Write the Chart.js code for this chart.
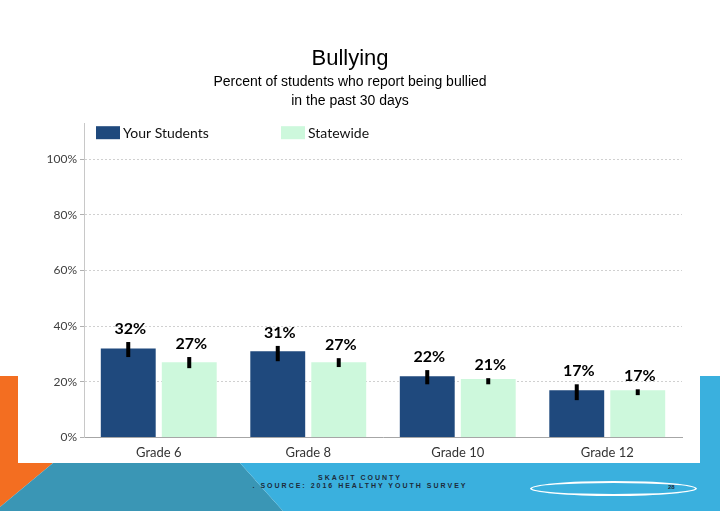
<!DOCTYPE html>
<html>
<head>
<meta charset="utf-8">
<script src="https://cdn.jsdelivr.net/npm/chart.js@4"></script>
<style>
  body { margin: 0; width: 720px; height: 511px; background: #fff; position: relative; overflow: hidden; }
  .shape { position: absolute; left: 0; top: 0; width: 720px; height: 511px; }
  #orange { background: #f36e21; clip-path: polygon(0 376px, 18px 376px, 18px 463px, 53px 463px, 0 507px); }
  #teal { background: #3a96b5; clip-path: polygon(53px 463px, 240px 463px, 283px 511px, 0 511px, 0 507px); }
  #blue { background: #3ab0de; clip-path: polygon(240px 463px, 700px 463px, 700px 376px, 720px 376px, 720px 511px, 283px 511px); }
  #wrap { position: absolute; left: 18px; top: 40px; width: 682px; height: 423px; background: #fff; }
  .foot { position: absolute; left: 0; width: 720px; text-align: center; font: bold 7px "Liberation Sans", Arial, sans-serif; letter-spacing: 2.0px; color: #1d2b3a; }
  #ell { position: absolute; left: 530px; top: 481px; width: 163px; height: 11px; border: 2.5px solid #fff; border-radius: 50%; }
  #pg { position: absolute; left: 668px; top: 484px; font: bold 6px "Liberation Sans", Arial, sans-serif; color: #1d2b3a; }
</style>
</head>
<body>
<div class="shape" id="orange"></div>
<div class="shape" id="teal"></div>
<div class="shape" id="blue"></div>
<div id="wrap"><canvas id="myChart"></canvas></div>
<div class="foot" style="top:474px">SKAGIT COUNTY</div>
<div class="foot" style="top:482px">. SOURCE: 2016 HEALTHY YOUTH SURVEY</div>
<div id="ell"></div>
<div id="pg">28</div>
<script>
const grades = ['Grade 6', 'Grade 8', 'Grade 10', 'Grade 12']
const yourStudents = [32, 31, 22, 17]
const statewide = [27, 27, 21, 17]
// confidence intervals
const yourLow = [28.9, 27.4, 19.1, 13.4]
const yourHigh = [34.3, 32.9, 24.2, 19.1]
const stateLow = [24.9, 25.3, 19.1, 15.2]
const stateHigh = [28.9, 28.5, 21.3, 17.3]
const yTicks = [0, 20, 40, 60, 80, 100]

const errs = [[yourLow, yourHigh], [stateLow, stateHigh]]

const extras = {
  id: 'extras',
  afterDatasetsDraw(chart) {
    const ctx = chart.ctx
    const y = chart.scales.y
    ctx.save()
    chart.data.datasets.forEach((ds, i) => {
      const meta = chart.getDatasetMeta(i)
      meta.data.forEach((bar, j) => {
        const top = y.getPixelForValue(errs[i][1][j])
        const bot = y.getPixelForValue(errs[i][0][j])
        ctx.fillStyle = '#000'
        ctx.fillRect(bar.x - 2, top, 4, bot - top)
        ctx.font = 'bold 16px Lato, "Open Sans", sans-serif'
        ctx.textAlign = 'center'
        ctx.textBaseline = 'alphabetic'
        ctx.fillText(ds.data[j] + '%', bar.x + 2, top - 8)
      })
    })
    // legend inside the plot
    const a = chart.chartArea
    const xs = [a.left + 12, a.left + 197]
    chart.data.datasets.forEach((ds, i) => {
      ctx.fillStyle = ds.backgroundColor
      ctx.fillRect(xs[i], a.top + 3, 24, 13)
      ctx.fillStyle = '#111'
      ctx.font = '14px Lato, "Open Sans", sans-serif'
      ctx.textAlign = 'left'
      ctx.textBaseline = 'middle'
      ctx.fillText(ds.label, xs[i] + 27, a.top + 10)
    })
    ctx.restore()
  }
}

new Chart(document.getElementById('myChart'), {
  type: 'bar',
  data: {
    labels: grades,
    datasets: [
      { label: 'Your Students', data: yourStudents, backgroundColor: '#1f497d' },
      { label: 'Statewide', data: statewide, backgroundColor: '#cdf8dc' }
    ]
  },
  options: {
    responsive: true,
    maintainAspectRatio: false,
    animation: false,
    categoryPercentage: 0.816,
    barPercentage: 0.9,
    layout: { padding: { left: 0, right: 18, top: 0, bottom: 2 } },
    plugins: {
      legend: { display: false },
      tooltip: { enabled: false },
      title: {
        display: true, text: 'Bullying', color: '#000',
        font: { family: '"Liberation Sans", Arial', size: 22, weight: 'normal' },
        padding: { top: 6, bottom: 0 }
      },
      subtitle: {
        display: true,
        text: ['Percent of students who report being bullied', 'in the past 30 days'],
        color: '#000',
        font: { family: '"Liberation Sans", Arial', size: 14, lineHeight: 1.35 },
        padding: { top: 0, bottom: 13 }
      }
    },
    scales: {
      x: {
        grid: { display: false },
        border: { color: '#a6a6a6' },
        ticks: { color: '#333', font: { family: 'Lato, sans-serif', size: 13 }, padding: 0 }
      },
      y: {
        min: 0, max: 113,
        afterBuildTicks(scale) { scale.ticks = yTicks.map(v => ({ value: v })) },
        afterFit(scale) { scale.width = 66 },
        border: { color: '#c8c8c8', dash: [2, 2] },
        grid: { color: '#d0d0d0', tickLength: 4, tickColor: '#b0b0b0', drawTicks: true },
        ticks: { color: '#404040', font: { family: 'Lato, sans-serif', size: 12 }, padding: 3, callback: v => v + '%' }
      }
    }
  },
  plugins: [extras]
})
</script>
</body>
</html>
